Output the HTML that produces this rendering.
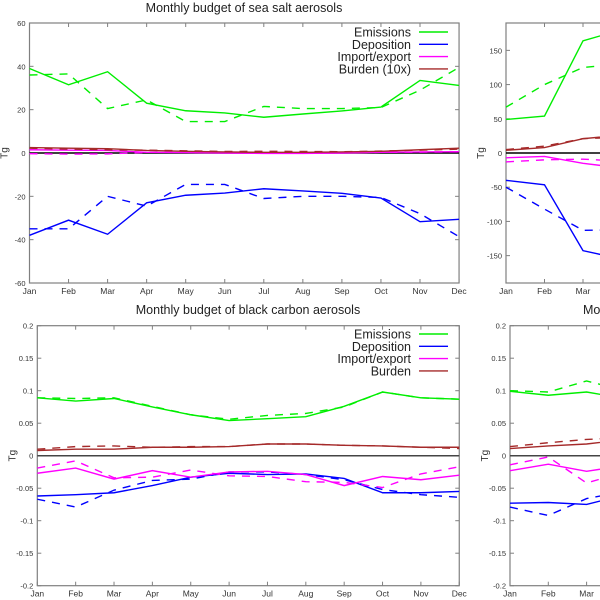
<!DOCTYPE html>
<html><head><meta charset="utf-8"><style>
body{margin:0;background:#fff;}
svg{display:block;font-family:"Liberation Sans","DejaVu Sans",sans-serif;}
</style></head><body>
<svg id="chart" width="600" height="600" viewBox="0 0 600 600"></svg>
<script>
const months = ["Jan","Feb","Mar","Apr","May","Jun","Jul","Aug","Sep","Oct","Nov","Dec"];
// Sea salt (top-left)
const ssEmis = [39,31.5,37.5,23,19.5,18.5,16.5,18,19.4,21.2,33.5,31.2];
const ssEmisD = [36,36.5,20.5,24.5,14.5,14.5,21.5,20.5,20.5,21,29,39.5];
const ssDep = [-38,-31,-37.5,-23,-19.5,-18.5,-16.5,-17.5,-18.6,-20.8,-31.7,-30.6];
const ssDepD = [-35,-35,-20,-24.5,-14.5,-14.5,-21,-20,-20,-20.5,-28,-38.6];
const ssImp = [1.5,1.3,1.2,0.3,0.2,0,-0.2,-0.2,0,0.3,0.5,0.6];
const ssImpD = [-0.3,-0.5,-0.4,0.3,0.3,0.2,0,0.2,0.2,0.3,0.4,0.5];
const ssBur = [2.5,2.2,2,1.2,0.8,0.5,0.3,0.3,0.5,0.8,1.5,2.2];
const ssBurD = [2.2,1.8,1.5,1.3,1,0.7,0.8,0.7,0.6,0.9,1.3,1.8];
// Dust-like (top-right, partially visible)
const r1Emis = [49,54,164,180];
const r1EmisD = [67,100,125,130];
const r1Dep = [-40,-46.5,-142.7,-155];
const r1DepD = [-50,-82,-113,-112];
const r1Imp = [-7,-5,-15,-22];
const r1ImpD = [-13,-10,-9,-12];
const r1Bur = [4,8,21,26];
const r1BurD = [5,10,21,23];
// Black carbon (bottom-left)
const bcEmis = [0.089,0.084,0.088,0.075,0.063,0.054,0.057,0.060,0.076,0.098,0.089,0.087];
const bcEmisD = [0.089,0.088,0.089,0.076,0.063,0.056,0.062,0.065,0.075,0.098,0.089,0.087];
const bcDep = [-0.062,-0.060,-0.057,-0.046,-0.033,-0.027,-0.029,-0.028,-0.035,-0.057,-0.057,-0.055];
const bcDepD = [-0.067,-0.079,-0.053,-0.038,-0.036,-0.025,-0.025,-0.029,-0.037,-0.052,-0.060,-0.064];
const bcImp = [-0.027,-0.019,-0.036,-0.023,-0.033,-0.025,-0.024,-0.029,-0.046,-0.032,-0.037,-0.030];
const bcImpD = [-0.019,-0.008,-0.034,-0.033,-0.022,-0.031,-0.032,-0.040,-0.041,-0.049,-0.028,-0.017];
const bcBur = [0.008,0.010,0.010,0.013,0.013,0.014,0.018,0.018,0.016,0.015,0.013,0.013];
const bcBurD = [0.010,0.014,0.015,0.013,0.014,0.014,0.018,0.018,0.016,0.015,0.013,0.011];
// bottom-right (partially visible)
const r2Emis = [0.099,0.093,0.098,0.088];
const r2EmisD = [0.100,0.098,0.115,0.100];
const r2Dep = [-0.073,-0.072,-0.075,-0.060];
const r2DepD = [-0.079,-0.092,-0.066,-0.055];
const r2Imp = [-0.023,-0.013,-0.024,-0.015];
const r2ImpD = [-0.014,-0.002,-0.042,-0.025];
const r2Bur = [0.011,0.015,0.018,0.025];
const r2BurD = [0.014,0.020,0.025,0.028];
const ticksSS = [-60,-40,-20,0,20,40,60];
const ticksR1 = [-150,-100,-50,0,50,100,150];
const ticksBC = [-0.2,-0.15,-0.1,-0.05,0,0.05,0.1,0.15,0.2];

const NS="http://www.w3.org/2000/svg";
const svg=document.getElementById('chart');
function mk(tag,attrs,parent){const e=document.createElementNS(NS,tag);for(const k in attrs)e.setAttribute(k,attrs[k]);(parent||svg).appendChild(e);return e;}
const COL={emis:"#00ee00",dep:"#0000ff",imp:"#ff00ff",bur:"#a52a2a"};

function panel(o){
  const g=mk('g',{});
  
  
  const x=i=>o.x0+i*o.step;
  const y=v=>o.y0+(o.vmax-v)/(o.vmax-o.vmin)*(o.y1-o.y0);
  const xr=o.x0+11*o.step;
  // axes box
  const box=mk('rect',{x:o.x0,y:o.y0,width:xr-o.x0,height:o.y1-o.y0,fill:"none",stroke:"#808080","stroke-width":1.2},g);
  
  
  o.ticks.forEach(t=>{
    const yy=y(t);
    mk('line',{x1:o.x0,x2:o.x0+4,y1:yy,y2:yy,stroke:"#808080"},g);
    mk('line',{x1:xr-4,x2:xr,y1:yy,y2:yy,stroke:"#808080"},g);
    const tx=mk('text',{x:o.x0-4,y:yy+3,"font-size":7.5,"text-anchor":"end",fill:"#333"},g);
    tx.textContent=o.fmt(t);
    
    
  });
  months.forEach((m,i)=>{
    const xx=x(i);
    mk('line',{x1:xx,x2:xx,y1:o.y1,y2:o.y1-4,stroke:"#808080"},g);
    mk('line',{x1:xx,x2:xx,y1:o.y0,y2:o.y0+4,stroke:"#808080"},g);
    const tx=mk('text',{x:xx,y:o.y1+11,"font-size":8.5,"text-anchor":"middle",fill:"#333"},g);
    tx.textContent=m;
    
    
  });
  const yl=mk('text',{x:0,y:0,"font-size":10,"text-anchor":"middle",fill:"#333",transform:`translate(${o.x0-22},${y(0)}) rotate(-90)`},g);
  yl.textContent="Tg";
  
  
  if(o.title){const tt=mk('text',{x:o.tx,y:o.ty,"font-size":12.5,"text-anchor":o.tanchor||"middle",fill:"#222"},g);tt.textContent=o.title;
    
    }
  const zl=mk('line',{x1:o.x0,x2:xr,y1:y(0),y2:y(0),stroke:o.zcol||"#000","stroke-width":1.5},g);
  
  
  o.series.forEach(s=>{
    const p=mk('polyline',{points:s.d.map((v,i)=>x(i)+","+y(v)).join(" "),fill:"none",stroke:COL[s.c],"stroke-width":1.4,"stroke-dasharray":s.dash?"8,7":"none"},g);
    
    
  });
  if(o.legend){
    o.legend.forEach((L,i)=>{
      const ly=o.ly+i*12.3;
      const t=mk('text',{x:o.lx,y:ly+4.5,"font-size":12.5,"text-anchor":"end",fill:"#222"},g);
      t.textContent=L[0];
      
      
      const l=mk('line',{x1:o.lx+8,x2:o.lx+37,y1:ly,y2:ly,stroke:COL[L[1]],"stroke-width":1.4},g);
      
      
    });
  }
}
function S(e,ed,d,dd,im,imd,b,bd){return [
 {n:'emissions-line',c:'emis',d:e},{n:'emissions-dashed',c:'emis',d:ed,dash:1},
 {n:'deposition-line',c:'dep',d:d},{n:'deposition-dashed',c:'dep',d:dd,dash:1},
 {n:'import-export-line',c:'imp',d:im},{n:'import-export-dashed',c:'imp',d:imd,dash:1},
 {n:'burden-line',c:'bur',d:b},{n:'burden-dashed',c:'bur',d:bd,dash:1}];}
const f0=v=>String(v);
const f2=v=>v===0?"0":String(v);
panel({name:'sea-salt-panel',x0:29.5,step:39.05,y0:23,y1:283,vmin:-60,vmax:60,ticks:ticksSS,fmt:f0,
  title:"Monthly budget of sea salt  aerosols",tx:244,ty:12,
  series:S(ssEmis,ssEmisD,ssDep,ssDepD,ssImp,ssImpD,ssBur,ssBurD),
  legend:[["Emissions","emis"],["Deposition","dep"],["Import/export","imp"],["Burden (10x)","bur"]],lx:411,ly:32});
panel({name:'top-right-panel',x0:506,step:38.5,y0:23,y1:283,vmin:-190,vmax:190,ticks:ticksR1,fmt:f0,
  series:S(r1Emis,r1EmisD,r1Dep,r1DepD,r1Imp,r1ImpD,r1Bur,r1BurD)});
panel({name:'black-carbon-panel',x0:37.3,step:38.36,y0:325.7,y1:585.7,vmin:-0.2,vmax:0.2,ticks:ticksBC,fmt:f2,zcol:"#444",
  title:"Monthly budget of black carbon aerosols",tx:248,ty:314,
  series:S(bcEmis,bcEmisD,bcDep,bcDepD,bcImp,bcImpD,bcBur,bcBurD),
  legend:[["Emissions","emis"],["Deposition","dep"],["Import/export","imp"],["Burden","bur"]],lx:411,ly:334});
panel({name:'bottom-right-panel',x0:510,step:38.3,y0:325.7,y1:585.7,vmin:-0.2,vmax:0.2,ticks:ticksBC,fmt:f2,zcol:"#444",
  title:"Monthly budget of organic carbon aerosols",tx:583,ty:314,tanchor:"start",
  series:S(r2Emis,r2EmisD,r2Dep,r2DepD,r2Imp,r2ImpD,r2Bur,r2BurD)});
</script>
</body></html>
